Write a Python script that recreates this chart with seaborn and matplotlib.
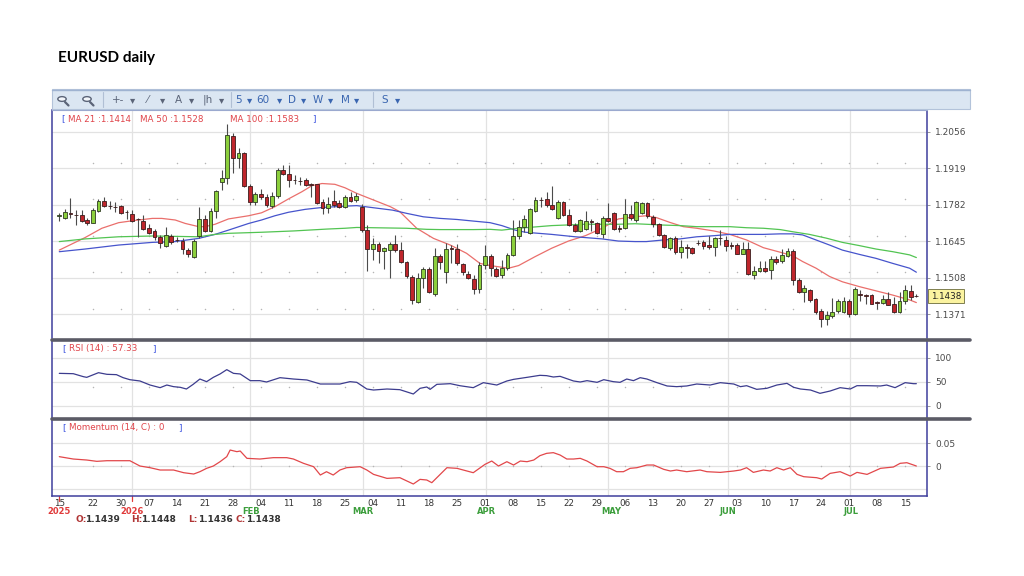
import numpy as np
import pandas as pd
import seaborn as sns
import matplotlib.pyplot as plt
import matplotlib.transforms as mtransforms
from matplotlib.patches import Rectangle, Circle
from matplotlib.lines import Line2D

# daily candles, EURUSD, 15 Dec 2025 .. 17 Jul 2026 (trading-day index)
opens = [1.1739, 1.1733, 1.1750, 1.1743, 1.1741, 1.1724, 1.1714, 1.1758, 1.1795, 1.1778,
         1.1774, 1.1775, 1.1755, 1.1745, 1.1729, 1.1721, 1.1695, 1.1683, 1.1659, 1.1628,
         1.1665, 1.1650, 1.1645, 1.1610, 1.1584, 1.1665, 1.1728, 1.1683, 1.1758, 1.1868,
         1.1883, 1.2040, 1.1955, 1.1974, 1.1853, 1.1790, 1.1820, 1.1810, 1.1778, 1.1815,
         1.1913, 1.1898, 1.1875, 1.1871, 1.1874, 1.1859, 1.1858, 1.1793, 1.1770, 1.1794,
         1.1788, 1.1774, 1.1811, 1.1798, 1.1774, 1.1686, 1.1615, 1.1633, 1.1608, 1.1610,
         1.1635, 1.1610, 1.1565, 1.1511, 1.1418, 1.1505, 1.1540, 1.1445, 1.1590, 1.1530,
         1.1619, 1.1615, 1.1557, 1.1523, 1.1501, 1.1464, 1.1555, 1.1590, 1.1540, 1.1517,
         1.1542, 1.1592, 1.1665, 1.1699, 1.1674, 1.1758, 1.1800, 1.1803, 1.1780, 1.1733,
         1.1793, 1.1742, 1.1705, 1.1683, 1.1689, 1.1721, 1.1713, 1.1670, 1.1732, 1.1752,
         1.1693, 1.1695, 1.1745, 1.1723, 1.1749, 1.1786, 1.1737, 1.1710, 1.1669, 1.1620,
         1.1658, 1.1605, 1.1621, 1.1619, 1.1639, 1.1642, 1.1630, 1.1624, 1.1658, 1.1648,
         1.1630, 1.1632, 1.1598, 1.1615, 1.1517, 1.1532, 1.1545, 1.1535, 1.1579, 1.1569,
         1.1589, 1.1607, 1.1498, 1.1454, 1.1460, 1.1426, 1.1381, 1.1351, 1.1364, 1.1381,
         1.1379, 1.1419, 1.1372, 1.1445, 1.1443, 1.1441, 1.1415, 1.1414, 1.1429, 1.1410,
         1.1379, 1.1419, 1.1456, 1.1439]
highs = [1.1751, 1.1765, 1.1808, 1.1760, 1.1760, 1.1730, 1.1768, 1.1803, 1.1810, 1.1795,
         1.1790, 1.1780, 1.1763, 1.1760, 1.1733, 1.1743, 1.1708, 1.1690, 1.1668, 1.1699,
         1.1673, 1.1661, 1.1655, 1.1618, 1.1651, 1.1773, 1.1743, 1.1768, 1.1836, 1.1911,
         1.2086, 1.2049, 1.1993, 1.1978, 1.1858, 1.1830, 1.1840, 1.1820, 1.1830, 1.1918,
         1.1930, 1.1930, 1.1893, 1.1886, 1.1880, 1.1863, 1.1861, 1.1803, 1.1811, 1.1836,
         1.1799, 1.1818, 1.1830, 1.1824, 1.1783, 1.1705, 1.1655, 1.1640, 1.1623, 1.1640,
         1.1669, 1.1643, 1.1570, 1.1518, 1.1524, 1.1549, 1.1549, 1.1618, 1.1595, 1.1636,
         1.1630, 1.1633, 1.1564, 1.1531, 1.1516, 1.1565, 1.1630, 1.1595, 1.1549, 1.1573,
         1.1602, 1.1723, 1.1723, 1.1743, 1.1768, 1.1811, 1.1811, 1.1828, 1.1853, 1.1799,
         1.1795, 1.1765, 1.1711, 1.1728, 1.1758, 1.1728, 1.1717, 1.1739, 1.1786, 1.1755,
         1.1705, 1.1802, 1.1780, 1.1795, 1.1790, 1.1790, 1.1742, 1.1714, 1.1673, 1.1661,
         1.1664, 1.1648, 1.1633, 1.1623, 1.1648, 1.1648, 1.1664, 1.1661, 1.1686, 1.1664,
         1.1642, 1.1636, 1.1642, 1.1642, 1.1552, 1.1570, 1.1570, 1.1590, 1.1590, 1.1614,
         1.1619, 1.1617, 1.1506, 1.1479, 1.1466, 1.1431, 1.1391, 1.1381, 1.1431, 1.1426,
         1.1435, 1.1429, 1.1473, 1.1460, 1.1448, 1.1448, 1.1419, 1.1444, 1.1454, 1.1435,
         1.1454, 1.1481, 1.1481, 1.1448]
lows = [1.1721, 1.1728, 1.1733, 1.1705, 1.1718, 1.1705, 1.1711, 1.1753, 1.1774, 1.1765,
        1.1755, 1.1745, 1.1728, 1.1715, 1.1661, 1.1685, 1.1670, 1.1649, 1.1620, 1.1623,
        1.1633, 1.1640, 1.1595, 1.1585, 1.1580, 1.1658, 1.1678, 1.1678, 1.1730, 1.1836,
        1.1858, 1.1899, 1.1918, 1.1849, 1.1780, 1.1780, 1.1803, 1.1774, 1.1768, 1.1808,
        1.1893, 1.1849, 1.1861, 1.1855, 1.1853, 1.1811, 1.1783, 1.1745, 1.1749, 1.1774,
        1.1768, 1.1768, 1.1793, 1.1793, 1.1678, 1.1533, 1.1574, 1.1561, 1.1541, 1.1506,
        1.1605, 1.1561, 1.1506, 1.1408, 1.1411, 1.1468, 1.1449, 1.1440, 1.1540, 1.1486,
        1.1561, 1.1555, 1.1519, 1.1504, 1.1445, 1.1449, 1.1541, 1.1513, 1.1511, 1.1506,
        1.1536, 1.1590, 1.1653, 1.1680, 1.1670, 1.1753, 1.1774, 1.1774, 1.1761, 1.1728,
        1.1739, 1.1702, 1.1678, 1.1678, 1.1685, 1.1683, 1.1673, 1.1657, 1.1717, 1.1685,
        1.1678, 1.1689, 1.1723, 1.1717, 1.1745, 1.1733, 1.1698, 1.1664, 1.1620, 1.1611,
        1.1595, 1.1583, 1.1580, 1.1595, 1.1630, 1.1617, 1.1617, 1.1590, 1.1630, 1.1607,
        1.1617, 1.1595, 1.1595, 1.1517, 1.1502, 1.1527, 1.1530, 1.1502, 1.1557, 1.1564,
        1.1585, 1.1479, 1.1451, 1.1416, 1.1416, 1.1372, 1.1322, 1.1331, 1.1356, 1.1376,
        1.1374, 1.1360, 1.1369, 1.1419, 1.1407, 1.1407, 1.1391, 1.1410, 1.1404, 1.1376,
        1.1376, 1.1407, 1.1423, 1.1436]
closes = [1.1741, 1.1753, 1.1747, 1.1741, 1.1720, 1.1714, 1.1760, 1.1795, 1.1778, 1.1775,
          1.1771, 1.1749, 1.1753, 1.1720, 1.1726, 1.1689, 1.1674, 1.1659, 1.1636, 1.1668,
          1.1640, 1.1648, 1.1615, 1.1596, 1.1646, 1.1728, 1.1683, 1.1758, 1.1833, 1.1883,
          1.2043, 1.1955, 1.1974, 1.1853, 1.1793, 1.1820, 1.1810, 1.1780, 1.1815, 1.1911,
          1.1895, 1.1874, 1.1873, 1.1869, 1.1855, 1.1856, 1.1786, 1.1770, 1.1783, 1.1781,
          1.1774, 1.1811, 1.1795, 1.1815, 1.1686, 1.1615, 1.1633, 1.1608, 1.1620, 1.1635,
          1.1610, 1.1565, 1.1514, 1.1424, 1.1508, 1.1540, 1.1453, 1.1590, 1.1568, 1.1615,
          1.1615, 1.1561, 1.1527, 1.1506, 1.1466, 1.1555, 1.1590, 1.1542, 1.1515, 1.1544,
          1.1594, 1.1665, 1.1699, 1.1728, 1.1765, 1.1799, 1.1798, 1.1780, 1.1764, 1.1793,
          1.1742, 1.1707, 1.1683, 1.1724, 1.1719, 1.1718, 1.1677, 1.1732, 1.1720, 1.1692,
          1.1690, 1.1745, 1.1730, 1.1790, 1.1786, 1.1739, 1.1710, 1.1669, 1.1623, 1.1658,
          1.1603, 1.1623, 1.1618, 1.1602, 1.1637, 1.1627, 1.1624, 1.1655, 1.1655, 1.1627,
          1.1628, 1.1598, 1.1615, 1.1520, 1.1532, 1.1545, 1.1532, 1.1579, 1.1565, 1.1592,
          1.1607, 1.1498, 1.1454, 1.1469, 1.1423, 1.1379, 1.1354, 1.1369, 1.1379, 1.1419,
          1.1419, 1.1372, 1.1466, 1.1443, 1.1440, 1.1410, 1.1412, 1.1429, 1.1406, 1.1379,
          1.1419, 1.1460, 1.1435, 1.1438]

# moving averages
ma21_idx = [0, 4.6, 7.6, 10.6, 13, 16.6, 18.3, 20.7, 22.5, 24.9, 26, 27.8, 30.2, 33.8, 36.1,
            38.5, 40.9, 43.3, 45.1, 46.9, 49.2, 51, 53.1, 56.1, 59.1, 60.8, 63.8, 66.8, 69.8,
            72.7, 75.1, 76.9, 80.2, 82, 84.9, 87.9, 90.9, 93.9, 96.9, 99.8, 102.8, 104.8,
            106.6, 109, 111.4, 113.8, 116.8, 119.7, 122.7, 125.7, 128.7, 130.9, 132.7, 135.1,
            137.5, 139.8, 142.8, 145.8, 148.8, 151.8, 153]
ma21 = [1.1611, 1.1658, 1.1693, 1.1714, 1.1721, 1.1730, 1.1730, 1.1724, 1.1711, 1.1699,
        1.1699, 1.1708, 1.1728, 1.1740, 1.1751, 1.1774, 1.1803, 1.1830, 1.1853, 1.1861,
        1.1858, 1.1845, 1.1824, 1.1799, 1.1774, 1.1755, 1.1693, 1.1655, 1.1630, 1.1599,
        1.1561, 1.1553, 1.1543, 1.1553, 1.1586, 1.1618, 1.1645, 1.1665, 1.1693, 1.1728,
        1.1736, 1.1740, 1.1733, 1.1715, 1.1699, 1.1693, 1.1683, 1.1670, 1.1649, 1.1620,
        1.1603, 1.1590, 1.1568, 1.1543, 1.1512, 1.1492, 1.1474, 1.1458, 1.1442, 1.1424,
        1.1414]
ma50_idx = [0, 4.6, 10.6, 16.6, 20.7, 24.9, 27.8, 30.2, 33.8, 36.1, 38.5, 40.9, 43.9, 46.9,
            51, 53.1, 56.1, 59.5, 62, 65, 68, 71, 73.9, 76.9, 79, 81.4, 83.2, 87.9, 92.1,
            96.9, 99.8, 102.8, 104.8, 107.8, 110.8, 113.8, 116.8, 119.7, 122.7, 125.7, 128.7,
            130.9, 132.7, 135.1, 137.5, 139.8, 142.8, 145.8, 148.8, 151.8, 153]
ma50 = [1.1605, 1.1615, 1.1630, 1.1640, 1.1643, 1.1655, 1.1670, 1.1686, 1.1711, 1.1724,
        1.1740, 1.1753, 1.1764, 1.1771, 1.1776, 1.1778, 1.1770, 1.1761, 1.1749, 1.1736,
        1.1730, 1.1726, 1.1720, 1.1714, 1.1703, 1.1686, 1.1678, 1.1670, 1.1661, 1.1653,
        1.1645, 1.1643, 1.1643, 1.1649, 1.1653, 1.1661, 1.1665, 1.1670, 1.1670, 1.1670,
        1.1672, 1.1672, 1.1668, 1.1649, 1.1630, 1.1611, 1.1595, 1.1580, 1.1561, 1.1543,
        1.1528]
ma100_idx = [0, 4.6, 10.6, 16.6, 24.9, 27.8, 30.2, 36.1, 41.9, 47.8, 51, 53.1, 56.1, 62,
             65.6, 68, 73.9, 76.9, 79, 82, 87.9, 93.9, 99.8, 102.8, 107.8, 110.8, 113.8,
             119.7, 122.7, 125.7, 128.7, 130.9, 133.9, 136.9, 139.8, 142.8, 145.8, 148.8,
             151.8, 153]
ma100 = [1.1643, 1.1653, 1.1661, 1.1664, 1.1661, 1.1670, 1.1674, 1.1678, 1.1683, 1.1690,
         1.1693, 1.1696, 1.1695, 1.1693, 1.1689, 1.1688, 1.1688, 1.1689, 1.1686, 1.1693,
         1.1703, 1.1708, 1.1708, 1.1710, 1.1705, 1.1703, 1.1699, 1.1699, 1.1695, 1.1693,
         1.1688, 1.1680, 1.1670, 1.1656, 1.1640, 1.1628, 1.1615, 1.1605, 1.1593, 1.1583]

rsi_idx = [0, 2.5, 4.3, 4.9, 7.0, 8.5, 10.2, 11.4, 12.6, 14.4, 16.2, 18.0, 19.2, 20.4, 21.6,
           22.7, 23.9, 25.1, 26.3, 27.5, 28.7, 29.9, 31.1, 32.3, 34.1, 35.8, 37.0, 39.4, 41.8,
           44.2, 46.6, 48.3, 50.1, 51.9, 53.1, 54.9, 56.1, 58.5, 60.8, 63.2, 64.4, 65.6, 66.2,
           67.4, 69.8, 71.5, 73.9, 75.7, 78.1, 79.9, 81.1, 83.5, 85.8, 87.0, 88.2, 89.4, 91.8,
           93.0, 94.2, 96.0, 97.2, 98.9, 100.1, 101.3, 102.5, 103.7, 104.9, 106.7, 108.5,
           110.2, 112.0, 113.8, 116.2, 118.0, 120.4, 121.6, 122.7, 124.5, 126.3, 128.1, 129.9,
           131.1, 132.3, 134.1, 135.8, 137.6, 139.4, 141.2, 142.4, 144.2, 146.6, 147.7, 149.2,
           151.0, 152.5, 153.0]
rsi_val = [67.4, 66.7, 60.5, 59.1, 68.8, 65.4, 64.7, 58.4, 54.2, 51.5, 43.1, 37.6, 43.1, 39.7,
           38.3, 34.8, 44.5, 55.6, 50.1, 59.1, 66.1, 75.1, 67.4, 66.1, 52.2, 52.2, 49.4, 58.4,
           55.6, 53.6, 45.2, 45.2, 45.2, 50.1, 48.7, 34.8, 32.7, 34.8, 33.4, 24.4, 36.2, 39.0,
           34.1, 44.5, 45.9, 41.7, 37.6, 48.0, 43.1, 51.5, 54.9, 59.1, 63.3, 62.6, 59.8, 61.2,
           51.5, 49.4, 52.2, 48.7, 54.2, 50.1, 48.7, 55.6, 52.2, 58.4, 55.6, 48.0, 41.1, 39.7,
           41.1, 45.2, 43.1, 48.0, 45.2, 39.7, 41.7, 34.1, 36.2, 43.1, 46.6, 38.3, 34.8, 32.7,
           25.8, 30.6, 37.6, 34.8, 41.7, 41.7, 41.1, 43.1, 37.6, 48.0, 45.9, 45.9]

mom_idx = [0, 2.5, 4.9, 6.7, 8.5, 10.8, 12.6, 14.4, 16.2, 18.0, 20.4, 22.2, 24.0, 25.1, 26.3,
           27.5, 28.7, 29.9, 30.5, 31.7, 32.3, 33.5, 35.8, 38.2, 40.6, 41.8, 43.6, 45.4, 46.6,
           47.7, 48.9, 50.1, 51.3, 53.7, 54.9, 56.1, 58.5, 60.8, 63.2, 64.4, 65.6, 66.5, 69.2,
           71.0, 73.9, 76.0, 77.2, 78.4, 79.9, 81.1, 82.3, 83.5, 84.7, 85.8, 87.0, 88.2, 89.4,
           90.6, 91.8, 93.0, 94.2, 96.0, 97.2, 98.3, 99.5, 100.7, 101.9, 103.1, 104.9, 106.1,
           107.9, 109.1, 110.2, 112.0, 114.4, 115.6, 118.0, 120.4, 121.6, 122.7, 123.9, 125.7,
           126.9, 128.1, 129.3, 130.5, 131.7, 132.9, 135.2, 136.1, 137.6, 139.4, 141.2, 142.4,
           144.2, 146.6, 148.9, 150.1, 151.3, 152.5, 153.0]
mom_val = [0.0206, 0.0154, 0.0132, 0.0103, 0.0117, 0.0117, 0.0117, 0.0000, -0.0037, -0.0088,
           -0.0088, -0.0147, -0.0176, -0.0125, -0.0051, 0.0000, 0.0095, 0.0206, 0.0352, 0.0316,
           0.0330, 0.0169, 0.0154, 0.0184, 0.0184, 0.0154, 0.0059, -0.0015, -0.0198, -0.0125,
           -0.0198, -0.0088, -0.0037, -0.0015, -0.0088, -0.0184, -0.0272, -0.0257, -0.0396,
           -0.0294, -0.0308, -0.0367, -0.0037, -0.0051, -0.0147, 0.0037, 0.0110, 0.0000,
           0.0095, 0.0022, 0.0110, 0.0095, 0.0132, 0.0228, 0.0279, 0.0294, 0.0242, 0.0154,
           0.0154, 0.0169, 0.0110, -0.0015, -0.0015, -0.0051, -0.0125, -0.0125, -0.0051,
           -0.0037, 0.0022, 0.0022, -0.0073, -0.0110, -0.0088, -0.0125, -0.0088, -0.0125,
           -0.0140, -0.0110, -0.0088, -0.0037, -0.0140, -0.0088, -0.0110, -0.0037, -0.0088,
           -0.0037, -0.0184, -0.0235, -0.0257, -0.0286, -0.0162, -0.0125, -0.0220, -0.0140,
           -0.0184, -0.0051, -0.0022, 0.0059, 0.0073, 0.0022, 0.0000]

rsi_label = 57.33
mom_label = 0

tick_pos = [0, 6, 11, 16, 21, 26, 31, 36, 41, 46, 51, 56, 61, 66, 71, 76, 81, 86, 91, 96,
            101, 106, 111, 116, 121, 126, 131, 136, 141, 146, 151]
tick_labels = ["15", "22", "30", "07", "14", "21", "28", "04", "11", "18", "25", "04", "11",
               "18", "25", "01", "08", "15", "22", "29", "06", "13", "20", "27", "03", "10",
               "17", "24", "01", "08", "15"]
month_pos = [13.0, 34.0, 54.2, 76.2, 98.0, 119.4, 141.2]
period_labels = ["2025", "2026", "FEB", "MAR", "APR", "MAY", "JUN", "JUL"]
period_pos = [0, 13.0, 34.2, 54.2, 76.3, 98.5, 119.4, 141.4]
price_ticks = [1.2056, 1.1919, 1.1782, 1.1645, 1.1508, 1.1371]
rsi_ticks = [100, 50, 0]
mom_ticks = [0.05, 0]

W, H = 1024, 576
sns.set_style("white")
plt.rcParams['font.family'] = ['DejaVu Sans']

fig = plt.figure(figsize=(W / 100, H / 100), dpi=100)


def rect(l, t, r, b):
    return [l / W, 1 - b / H, (r - l) / W, (b - t) / H]


def fxy(px, py):
    return px / W, 1 - py / H


frame = '#3f3f9c'
grid = '#e2e2e2'

ax = fig.add_axes(rect(52, 110, 927, 338))
ax_rsi = fig.add_axes(rect(52, 341, 927, 418), sharex=ax)
ax_mom = fig.add_axes(rect(52, 420, 927, 496), sharex=ax)

n = len(closes)
x = np.arange(n)
o, h, l, c = (np.array(v) for v in (opens, highs, lows, closes))
up = c >= o
lo = np.minimum(o, c)
bh = np.maximum(np.abs(c - o), 0.00018)

# grid
for a in (ax, ax_rsi, ax_mom):
    for m in month_pos:
        a.axvline(m, color=grid, lw=0.9, zorder=0)
for p in price_ticks:
    ax.axhline(p, color=grid, lw=0.9, zorder=0)
for p in rsi_ticks:
    ax_rsi.axhline(p, color=grid, lw=0.9, zorder=0)
for p in mom_ticks + [-0.05]:
    ax_mom.axhline(p, color=grid, lw=0.9, zorder=0)
dot_x = tick_pos[1:]
for p in price_ticks[1:]:
    ax.scatter(dot_x, [p + 0.0019] * len(dot_x), s=1.2, color='#b5b5b5', zorder=1, lw=0)
ax_rsi.scatter(dot_x, [38] * len(dot_x), s=1.2, color='#b5b5b5', zorder=1, lw=0)
ax_mom.scatter(dot_x, [0.0] * len(dot_x), s=1.2, color='#b5b5b5', zorder=1, lw=0)

# moving averages
ma_df = pd.concat([
    pd.DataFrame({'idx': ma21_idx, 'value': ma21, 'series': 'MA 21'}),
    pd.DataFrame({'idx': ma50_idx, 'value': ma50, 'series': 'MA 50'}),
    pd.DataFrame({'idx': ma100_idx, 'value': ma100, 'series': 'MA 100'}),
])
pal = {'MA 21': '#ea6f6c', 'MA 50': '#4654cc', 'MA 100': '#52c452'}
sns.lineplot(data=ma_df, x='idx', y='value', hue='series', palette=pal, ax=ax,
             legend=False, linewidth=0.9, estimator=None, zorder=2)

# candles
ax.vlines(x, l, h, color='#4b4b4b', lw=0.8, zorder=3)
ax.bar(x[up], bh[up], bottom=lo[up], width=0.68, color='#8ccf3c', edgecolor='#2e3a22',
       linewidth=0.6, zorder=4)
ax.bar(x[~up], bh[~up], bottom=lo[~up], width=0.68, color='#bf262c', edgecolor='#3b1c1c',
       linewidth=0.6, zorder=4)

sns.lineplot(x=rsi_idx, y=rsi_val, ax=ax_rsi, color='#3c3c8e', linewidth=0.9, estimator=None)
sns.lineplot(x=mom_idx, y=mom_val, ax=ax_mom, color='#e2474a', linewidth=0.9, estimator=None)

ax.set_xlim(-1.3, 154.9)
ax.set_ylim(1.1281, 1.2137)
ax_rsi.set_ylim(-25.6, 134.8)
ax_mom.set_ylim(-0.066, 0.1013)

for a in (ax, ax_rsi, ax_mom):
    a.set_xlabel('')
    a.set_ylabel('')
    a.yaxis.tick_right()
    a.tick_params(axis='y', length=2, pad=4, labelsize=6.5, labelcolor='#4a4a4a',
                  color='#888888', width=0.6)
    for s in a.spines.values():
        s.set_color(frame)
        s.set_linewidth(1.1)
    a.spines['bottom'].set_visible(False)
    a.spines['top'].set_visible(False)
ax.spines['top'].set_visible(True)
ax.spines['top'].set_color('#9aa8cf')
ax.spines['top'].set_linewidth(0.8)
ax_mom.spines['bottom'].set_visible(True)

ax.set_yticks(price_ticks, [f"{p:.4f}" for p in price_ticks])
ax_rsi.set_yticks(rsi_ticks, [str(p) for p in rsi_ticks])
ax_mom.set_yticks(mom_ticks, ["0.05", "0"])

ax.tick_params(axis='x', bottom=False, labelbottom=False)
ax_rsi.tick_params(axis='x', bottom=False, labelbottom=False)
ax_mom.set_xticks(tick_pos, tick_labels)
ax_mom.tick_params(axis='x', length=2, pad=0.5, labelsize=6.3, labelcolor='#333333',
                   color='#777777', width=0.6)

# red year markers under the axis
trans = mtransforms.blended_transform_factory(ax_mom.transData, ax_mom.transAxes)
for yx in period_pos[:2]:
    ax_mom.plot([yx, yx], [0, -0.07], transform=trans, color='#e03a3a', lw=0.9, clip_on=False)

# last price tag
ttrans = mtransforms.blended_transform_factory(ax.transAxes, ax.transData)
ax.text(1.0045, closes[-1], f"{closes[-1]:.4f}", transform=ttrans, fontsize=6.3,
        va='center', ha='left', color='#222222', clip_on=False,
        bbox=dict(boxstyle='square,pad=0.3', fc='#fbf3a0', ec='#6b6b3a', lw=0.6))

# separators between panels
for yy in (339.5, 419.0):
    fig.add_artist(Line2D([52 / W, 970 / W], [1 - yy / H] * 2, color='#5b5b66', lw=2.6))

# toolbar
tb = Rectangle(fxy(52, 109), 918 / W, 20 / H, transform=fig.transFigure,
               facecolor='#dbe6f2', edgecolor='#b3c3da', lw=0.8)
fig.add_artist(tb)
fig.add_artist(Line2D([52 / W, 970 / W], [1 - 89.5 / H] * 2, color='#9fb3d1', lw=1.0))
for cx in (62, 87):
    cxy = fxy(cx, 99)
    fig.add_artist(Circle(cxy, 4.2 / W, transform=fig.transFigure, fc='#f3f6fa',
                          ec='#5b6478', lw=1.0))
    fig.add_artist(Line2D([(cx + 3) / W, (cx + 6.5) / W], [1 - 102 / H, 1 - 105.5 / H],
                          color='#5b6478', lw=1.6))
for sx in (103, 231, 373):
    fig.add_artist(Line2D([sx / W] * 2, [1 - 92 / H, 1 - 107 / H], color='#b0bfd4', lw=0.8))
tool_items = [("+-", 118, '#5b6478'), ("▾", 133, '#5b6478'), ("⁄", 148, '#5b6478'),
              ("▾", 163, '#5b6478'), ("A", 178, '#5b6478'), ("▾", 192, '#5b6478'),
              ("|h", 208, '#5b6478'), ("▾", 222, '#5b6478'), ("5", 239, '#3a66b0'),
              ("▾", 250, '#3a66b0'), ("60", 263, '#3a66b0'), ("▾", 280, '#3a66b0'),
              ("D", 292, '#3a66b0'), ("▾", 304, '#3a66b0'), ("W", 318, '#3a66b0'),
              ("▾", 331, '#3a66b0'), ("M", 345, '#3a66b0'), ("▾", 357, '#3a66b0'),
              ("S", 385, '#3a66b0'), ("▾", 398, '#3a66b0')]
for txt, px, col in tool_items:
    fig.text(*fxy(px, 100), txt, fontsize=7.5, color=col, ha='center', va='center')

# title
fig.text(*fxy(58, 58), "EURUSD daily", fontsize=11, fontweight='bold', color='black',
         ha='left', va='center', family=['Lato', 'DejaVu Sans'])

# indicator captions
blue_br = '#3f55e0'
red_tx = '#e0444a'
fig.text(*fxy(61, 119), "[", fontsize=6.5, color=blue_br, va='center')
fig.text(*fxy(68, 119), f"MA 21 :{ma21[-1]:.4f}", fontsize=6.3, color=red_tx, va='center')
fig.text(*fxy(140, 119), f"MA 50 :{ma50[-1]:.4f}", fontsize=6.3, color=red_tx, va='center')
fig.text(*fxy(230, 119), f"MA 100 :{ma100[-1]:.4f}", fontsize=6.3, color=red_tx, va='center')
fig.text(*fxy(312, 119), "]", fontsize=6.5, color=blue_br, va='center')

fig.text(*fxy(62, 349), "[", fontsize=6.5, color=blue_br, va='center')
fig.text(*fxy(69, 349), f"RSI (14) : {rsi_label:.2f}", fontsize=6.3, color=red_tx, va='center')
fig.text(*fxy(152, 349), "]", fontsize=6.5, color=blue_br, va='center')

fig.text(*fxy(62, 427.5), "[", fontsize=6.5, color=blue_br, va='center')
fig.text(*fxy(69, 427.5), f"Momentum (14, C) : {mom_label}", fontsize=6.3, color=red_tx,
         va='center')
fig.text(*fxy(178, 427.5), "]", fontsize=6.5, color=blue_br, va='center')

# month / year labels under the ticks
x0px, step = 59.3, 5.6
for lab, pos in zip(period_labels, period_pos):
    col = '#e03a3a' if lab.isdigit() else '#3c9e3c'
    fig.text(*fxy(x0px + pos * step, 511.5), lab, fontsize=6, fontweight='bold', color=col,
             ha='center', va='center')

# OHLC of the last bar
ohlc = [("O:", opens[-1], 75), ("H:", highs[-1], 131), ("L:", lows[-1], 188),
        ("C:", closes[-1], 236)]
for k, v, px in ohlc:
    fig.text(*fxy(px, 519.5), k, fontsize=6.5, color='#b03434', va='center', fontweight='bold')
    fig.text(*fxy(px + 10, 519.5), f"{v:.4f}", fontsize=6.5, color='#333333', va='center',
             fontweight='bold')

fig.savefig("out.png", dpi=100)
